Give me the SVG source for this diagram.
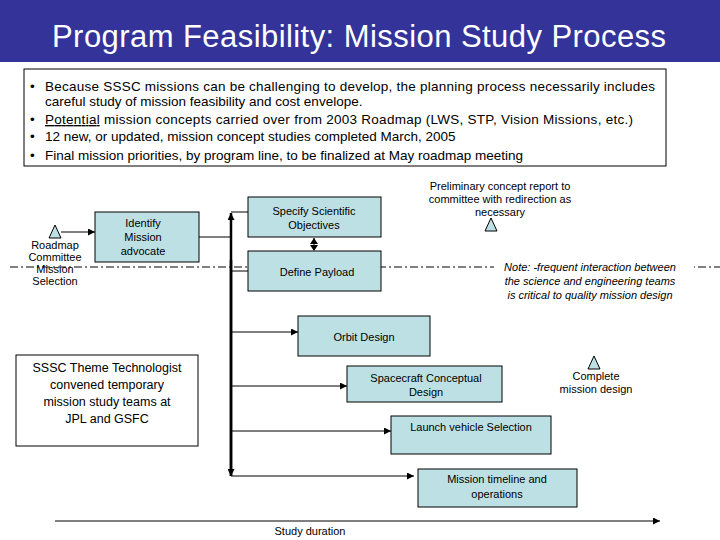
<svg xmlns="http://www.w3.org/2000/svg" width="720" height="540" viewBox="0 0 720 540">
<style>
text{font-family:"Liberation Sans",Arial,sans-serif;fill:#000}
.b{fill:#bde0e4;stroke:#000;stroke-width:1}
.t{font-size:11px;text-anchor:middle}
.bl{font-size:13.5px}
.c{stroke:#000;fill:none;stroke-width:1}
.k{stroke:#000;fill:none;stroke-width:2.5}
.tri{fill:#bde0e4;stroke:#000;stroke-width:1}
</style>
<defs>
<marker id="a" viewBox="0 0 10 10" refX="10" refY="5" markerWidth="7" markerHeight="7" markerUnits="userSpaceOnUse" orient="auto"><path d="M0,0L10,5L0,10z" fill="#000"/></marker>
<marker id="as" viewBox="0 0 10 10" refX="0" refY="5" markerWidth="6" markerHeight="6" markerUnits="userSpaceOnUse" orient="auto-start-reverse"><path d="M0,0L10,5L0,10z" fill="#000"/></marker>
</defs>
<rect width="720" height="540" fill="#fff"/>
<rect x="0" y="0" width="720" height="62" fill="#333399"/>
<text x="359" y="47" font-size="31" text-anchor="middle" textLength="614" style="fill:#fff">Program Feasibility: Mission Study Process</text>
<rect x="24" y="69" width="642" height="97" fill="#fff" stroke="#000"/>
<g class="bl">
<text x="30" y="91">•</text><text x="45" y="91" textLength="610">Because SSSC missions can be challenging to develop, the planning process necessarily includes</text>
<text x="45" y="106">careful study of mission feasibility and cost envelope.</text>
<text x="30" y="124">•</text><text x="45" y="124" textLength="588"><tspan text-decoration="underline">Potential</tspan> mission concepts carried over from 2003 Roadmap (LWS, STP, Vision Missions, etc.)</text>
<text x="30" y="141">•</text><text x="45" y="141">12 new, or updated, mission concept studies completed March, 2005</text>
<text x="30" y="160">•</text><text x="45" y="160">Final mission priorities, by program line, to be finalized at May roadmap meeting</text>
</g>
<line x1="10" y1="267" x2="720" y2="267" stroke="#000" stroke-width="1" stroke-dasharray="8,3,2,3"/>
<g id="connectors">
<line class="c" x1="61" y1="232" x2="95" y2="232" stroke-width="2" marker-end="url(#a)"/>
<line class="c" x1="199" y1="237" x2="231" y2="237"/>
<line class="k" x1="231" y1="476" x2="231" y2="213" marker-end="url(#a)"/>
<line class="k" x1="231" y1="260" x2="231" y2="476" marker-end="url(#a)"/>
<line class="c" x1="231" y1="212" x2="248" y2="212"/>
<line class="c" x1="231" y1="271" x2="248" y2="271"/>
<line class="c" x1="314" y1="238" x2="314" y2="250" stroke-width="2"/>
<path d="M310,244L314,238L318,244zM310,245L314,251L318,245z" fill="#000"/>
<line class="c" x1="231" y1="332" x2="298" y2="332" marker-end="url(#a)"/>
<line class="c" x1="231" y1="386" x2="347" y2="386" marker-end="url(#a)"/>
<line class="c" x1="231" y1="431" x2="391" y2="431" marker-end="url(#a)"/>
<line class="c" x1="231" y1="476" x2="414" y2="476" stroke-width="2" marker-end="url(#a)"/>
<line class="c" x1="55" y1="521" x2="660" y2="521" stroke-width="2" marker-end="url(#a)"/>
</g>
<g id="roadmap"><path class="tri" d="M49,238L55,225L61,238z"/>
<text class="t" x="55" y="249">Roadmap</text><text class="t" x="55" y="261">Committee</text><text class="t" x="55" y="273">Mission</text><text class="t" x="55" y="285">Selection</text></g>
<g id="identify"><rect class="b" x="95" y="212" width="104" height="50"/>
<text class="t" x="143" y="227">Identify</text><text class="t" x="143" y="241">Mission</text><text class="t" x="143" y="255">advocate</text></g>
<g id="specify"><rect class="b" x="248" y="197" width="133" height="40"/>
<text class="t" x="314" y="215">Specify Scientific</text><text class="t" x="314" y="229">Objectives</text></g>
<g id="payload"><rect class="b" x="248" y="251" width="133" height="40"/>
<text class="t" x="317" y="276">Define Payload</text></g>
<g id="prelim"><text class="t" x="500" y="190">Preliminary concept report to</text><text class="t" x="500" y="203">committee  with redirection as</text><text class="t" x="500" y="216">necessary</text>
<path class="tri" d="M485,231L491,218L497,231z"/></g>
<g id="note" font-style="italic"><rect x="494" y="260" width="200" height="14" fill="#fff"/>
<text class="t" x="590" y="271">Note: -frequent interaction between</text><text class="t" x="590" y="285">the science and engineering teams</text><text class="t" x="590" y="299">is critical to quality mission design</text></g>
<g id="orbit"><rect class="b" x="298" y="316" width="132" height="40"/>
<text class="t" x="364" y="341">Orbit Design</text></g>
<g id="sssc"><rect x="16" y="355" width="182" height="91" fill="#fff" stroke="#000"/>
<g font-size="12.5" text-anchor="middle"><text x="107" y="372">SSSC Theme Technologist</text><text x="107" y="389">convened temporary</text><text x="107" y="406">mission study teams at</text><text x="107" y="423">JPL and GSFC</text></g></g>
<g id="spacecraft"><rect class="b" x="347" y="366" width="155" height="36"/>
<text class="t" x="426" y="382">Spacecraft Conceptual</text><text class="t" x="426" y="396">Design</text></g>
<g id="complete"><path class="tri" d="M588,369L594,356L600,369z"/>
<text class="t" x="596" y="380">Complete</text><text class="t" x="596" y="393">mission design</text></g>
<g id="launch"><rect class="b" x="391" y="416" width="160" height="38"/>
<text class="t" x="471" y="431">Launch vehicle Selection</text></g>
<g id="timeline"><rect class="b" x="418" y="469" width="159" height="38"/>
<text class="t" x="497" y="483">Mission timeline and</text><text class="t" x="497" y="498">operations</text></g>
<text x="310" y="535" font-size="11" text-anchor="middle">Study duration</text>
</svg>
